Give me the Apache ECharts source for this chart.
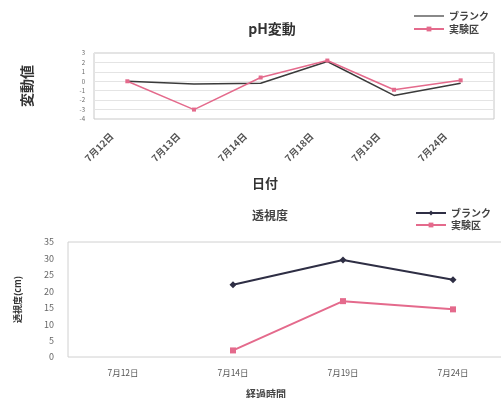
<!DOCTYPE html>
<html>
<head>
<meta charset="utf-8">
<script src="https://cdn.jsdelivr.net/npm/echarts@6/dist/echarts.min.js"></script>
<style>
  html, body { margin: 0; padding: 0; background: #fff; }
  #chart { width: 501px; height: 398px; }
</style>
</head>
<body>
<div id="chart"></div>
<script>
// pH change (top panel)
const phDates = ['7月12日', '7月13日', '7月14日', '7月18日', '7月19日', '7月24日'];
const phBlank = [0, -0.3, -0.2, 2.1, -1.5, -0.2];
const phTest = [0, -3.0, 0.4, 2.2, -0.9, 0.1];

// Transparency (bottom panel)
const tpDates = ['7月12日', '7月14日', '7月19日', '7月24日'];
const tpBlank = [null, 22, 29.5, 23.5];
const tpTest = [null, 2, 17, 14.5];

const FONT = '"Noto Sans CJK JP", "Noto Sans", sans-serif';
const BLANK_TOP = '#3a3a3a';
const BLANK_BOT = '#2e2e44';
const PINK = '#e46a8c';

const chart = echarts.init(document.getElementById('chart'));
chart.setOption({
  backgroundColor: '#fff',
  animation: false,
  textStyle: { fontFamily: FONT },
  title: [
    { text: 'pH変動', left: 267, top: 17, textAlign: 'center',
      textStyle: { fontSize: 14, fontWeight: 'bold', color: '#333', fontFamily: FONT } },
    { text: '透視度', left: 265, top: 204, textAlign: 'center',
      textStyle: { fontSize: 12, fontWeight: 'bold', color: '#444', fontFamily: FONT } }
  ],
  legend: [
    { orient: 'vertical', left: 408, top: 6, itemGap: 3, itemWidth: 30, itemHeight: 6,
      data: [
        { name: 'ブランク', icon: 'path://M0 0H30V1.2H0Z' },
        { name: '実験区' }
      ],
      textStyle: { fontSize: 10, color: '#444', fontWeight: 'bold', fontFamily: FONT } },
    { orient: 'vertical', left: 410, top: 203, itemGap: 2, itemWidth: 30, itemHeight: 6,
      data: ['ブランク ', '実験区 '],
      textStyle: { fontSize: 10, color: '#444', fontWeight: 'bold', fontFamily: FONT } }
  ],
  grid: [
    { left: 94, top: 53, width: 400, height: 66, outerBoundsMode: 'none',
      show: true, borderColor: '#c8c8c8', borderWidth: 1, backgroundColor: '#fff' },
    { left: 68, top: 242, width: 440, height: 115, outerBoundsMode: 'none',
      show: true, borderColor: '#d0d0d0', borderWidth: 1, backgroundColor: '#fff' }
  ],
  xAxis: [
    { gridIndex: 0, type: 'category', data: phDates, boundaryGap: true,
      axisLine: { show: false }, axisTick: { show: false },
      axisLabel: { rotate: 45, fontSize: 9.5, color: '#555', fontWeight: 'bold',
        margin: 0, padding: [0, 22, 0, 0], interval: 0 },
      name: '日付', nameLocation: 'middle', nameGap: 58,
      nameTextStyle: { fontSize: 13, fontWeight: 'bold', color: '#333', padding: [0, 58, 0, 0] } },
    { gridIndex: 1, type: 'category', data: tpDates, boundaryGap: true,
      axisLine: { show: false }, axisTick: { show: false },
      axisLabel: { fontSize: 8.5, color: '#555', margin: 12, interval: 0 },
      name: '経過時間', nameLocation: 'middle', nameGap: 32,
      nameTextStyle: { fontSize: 10, fontWeight: 'bold', color: '#444', padding: [0, 44, 0, 0] } }
  ],
  yAxis: [
    { gridIndex: 0, type: 'value', min: -4, max: 3, interval: 1,
      axisLine: { show: false }, axisTick: { show: false },
      axisLabel: { fontSize: 6, color: '#666', margin: 9 },
      splitLine: { lineStyle: { color: '#e4e4e4', width: 1 } },
      name: '変動値', nameLocation: 'middle', nameRotate: 90, nameGap: 60,
      nameTextStyle: { fontSize: 14, fontWeight: 'bold', color: '#333' } },
    { gridIndex: 1, type: 'value', min: 0, max: 35, interval: 5,
      axisLine: { show: false }, axisTick: { show: false },
      axisLabel: { fontSize: 9, color: '#666', margin: 14 },
      splitLine: { show: false },
      name: '透視度(cm)', nameLocation: 'middle', nameRotate: 90, nameGap: 46,
      nameTextStyle: { fontSize: 9, fontWeight: 'bold', color: '#333' } }
  ],
  series: [
    { name: 'ブランク', type: 'line', xAxisIndex: 0, yAxisIndex: 0, data: phBlank,
      symbol: 'none', lineStyle: { color: BLANK_TOP, width: 1.5 }, itemStyle: { color: BLANK_TOP } },
    { name: '実験区', type: 'line', xAxisIndex: 0, yAxisIndex: 0, data: phTest,
      symbol: 'rect', symbolSize: 4, lineStyle: { color: PINK, width: 1.5 }, itemStyle: { color: PINK } },
    { name: 'ブランク ', type: 'line', xAxisIndex: 1, yAxisIndex: 1, data: tpBlank,
      symbol: 'diamond', symbolSize: 7, lineStyle: { color: BLANK_BOT, width: 2 }, itemStyle: { color: BLANK_BOT } },
    { name: '実験区 ', type: 'line', xAxisIndex: 1, yAxisIndex: 1, data: tpTest,
      symbol: 'rect', symbolSize: 6, lineStyle: { color: PINK, width: 2 }, itemStyle: { color: PINK } }
  ]
});
</script>
</body>
</html>
